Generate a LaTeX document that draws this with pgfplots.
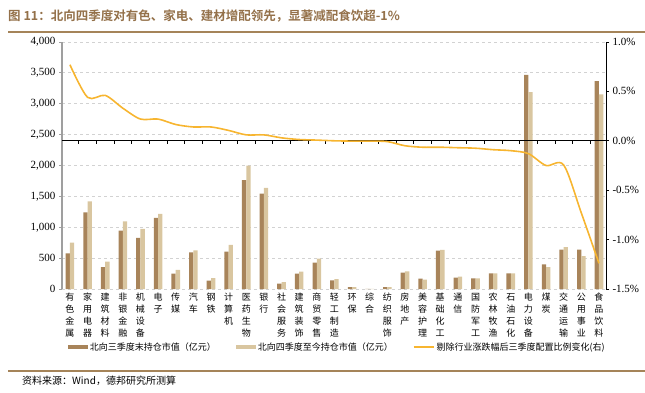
\documentclass[border=0pt]{standalone}
\usepackage{fontspec}
\setmainfont{Liberation Serif}
\newfontfamily\cjk[BoldFont={Noto Sans CJK SC Bold}]{Noto Sans CJK SC}
\usepackage{pgfplots}
\usepackage{pgfplotstable}
\pgfplotsset{compat=1.18}
\definecolor{darkbar}{HTML}{A8845A}
\definecolor{lightbar}{HTML}{D9C6A0}
\definecolor{linec}{HTML}{F7B530}
\definecolor{titlec}{HTML}{94714A}
\definecolor{rulec}{HTML}{A58459}
\pgfplotstableread{
i q3 q4 chg
1 578 750 0.77
2 1242 1420 0.44
3 356 442 0.46
4 944 1096 0.33
5 826 972 0.22
6 1150 1215 0.22
7 248 308 0.165
8 594 626 0.14
9 135 178 0.14
10 605 713 0.105
11 1765 1997 0.06
12 1544 1636 0.06
13 86 113 0.03
14 248 281 0.013
15 426 491 0.007
16 141 162 0.0
17 32 32 -0.003
18 3 3 -0.003
19 30 30 -0.008
20 264 286 -0.05
21 167 151 -0.065
22 621 632 -0.065
23 183 200 -0.07
24 173 173 -0.075
25 254 254 -0.09
26 254 254 -0.1
27 3466 3190 -0.13
28 400 356 -0.25
29 637 680 -0.245
30 637 534 -0.73
31 3368 3153 -1.24
}\data
\begin{document}
\begin{tikzpicture}
\path[use as bounding box] (0,0) rectangle (645pt,392pt);
\node[anchor=west, font=\cjk\bfseries\fontsize{12.5}{14}\selectfont, text=titlec, inner sep=0] at (8pt,376pt) {图 11：北向四季度对有色、家电、建材增配领先，显著减配食饮超-1\%};
\draw[rulec, line width=2pt] (8pt,360pt) -- (645pt,360pt);
\draw[rulec, line width=1.5pt] (8pt,21pt) -- (645pt,21pt);
\node[anchor=west, font=\cjk\fontsize{10}{12}\selectfont, inner sep=0] at (22pt,11pt) {资料来源：Wind，德邦研究所测算};
\begin{axis}[
  at={(62pt,103pt)}, anchor=south west,
  scale only axis, width=544pt, height=247pt,
  xmin=0.55, xmax=31.4, ymin=0, ymax=4000,
  axis y line*=left, axis x line*=bottom,
  x axis line style={draw=none},
  y axis line style={draw=gray!75, line width=1.3pt, -},
  ytick={0,500,...,4000},
  ytick style={draw=gray!75, line width=0.8pt},
  tick align=outside, major tick length=3pt,
  xtick={1,...,31}, xtick style={draw=none},
  xticklabels={{有\\色\\金\\属},{家\\用\\电\\器},{建\\筑\\材\\料},{非\\银\\金\\融},{机\\械\\设\\备},{电\\子},{传\\媒},{汽\\车},{钢\\铁},{计\\算\\机},{医\\药\\生\\物},{银\\行},{社\\会\\服\\务},{建\\筑\\装\\饰},{商\\贸\\零\\售},{轻\\工\\制\\造},{环\\保},{综\\合},{纺\\织\\服\\饰},{房\\地\\产},{美\\容\\护\\理},{基\\础\\化\\工},{通\\信},{国\\防\\军\\工},{农\\林\\牧\\渔},{石\\油\\石\\化},{电\\力\\设\\备},{煤\\炭},{交\\通\\运\\输},{公\\用\\事\\业},{食\\品\\饮\\料}},
  x tick label style={font=\cjk\fontsize{9}{12}\selectfont, align=center, anchor=north, inner sep=1pt},
  /pgf/number format/assume math mode=true,
  /pgf/number format/1000 sep={,},
  y tick label style={font=\fontsize{11}{12}\selectfont},
  ymajorgrids, grid style={dash pattern=on 3pt off 3pt, gray!35, line width=0.8pt},
  ybar=0pt, bar width=4.3pt,
  legend style={at={(0.506,-0.235)}, anchor=center, draw=none, fill=none,
    font=\cjk\fontsize{9}{11}\selectfont, legend columns=3,
    /tikz/every even column/.append style={column sep=18pt}},
]
\addplot[fill=darkbar, draw=none, legend image code/.code={\fill[darkbar] (0pt,-2pt) rectangle (20pt,2pt);}] table[x=i, y=q3] \data;
\addlegendentry{北向三季度末持仓市值（亿元）}
\addplot[fill=lightbar, draw=none, legend image code/.code={\fill[lightbar] (0pt,-2pt) rectangle (20pt,2pt);}] table[x=i, y=q4] \data;
\addlegendentry{北向四季度至今持仓市值（亿元）}
\addlegendimage{linec, line width=1.6pt, legend image code/.code={\draw[linec, line width=1.6pt] (0pt,0pt) -- (20pt,0pt);}}
\addlegendentry{剔除行业涨跌幅后三季度配置比例变化(右)}
\end{axis}
\begin{axis}[
  at={(62pt,103pt)}, anchor=south west,
  scale only axis, width=544pt, height=247pt,
  xmin=0.55, xmax=31.4, ymin=-1.5, ymax=1.0,
  axis y line*=right, axis x line*=middle,
  x axis line style={-, black, line width=0.8pt},
  y axis line style={-, black, line width=0.9pt},
  xtick={1.5,2.5,...,30.5}, xticklabels={},
  xtick style={black, line width=0.6pt},
  ytick={-1.5,-1,...,1},
  ytick style={black, line width=0.8pt},
  tick align=outside, major tick length=3pt,
  /pgf/number format/assume math mode=true,
  yticklabel={\pgfmathprintnumber[fixed,fixed zerofill,precision=1]{\tick}\%},
  y tick label style={font=\fontsize{11}{12}\selectfont},
]
\addplot[linec, line width=1.6pt, smooth, tension=0.5, mark=none] table[x=i, y=chg] \data;
\end{axis}
\end{tikzpicture}
\end{document}
